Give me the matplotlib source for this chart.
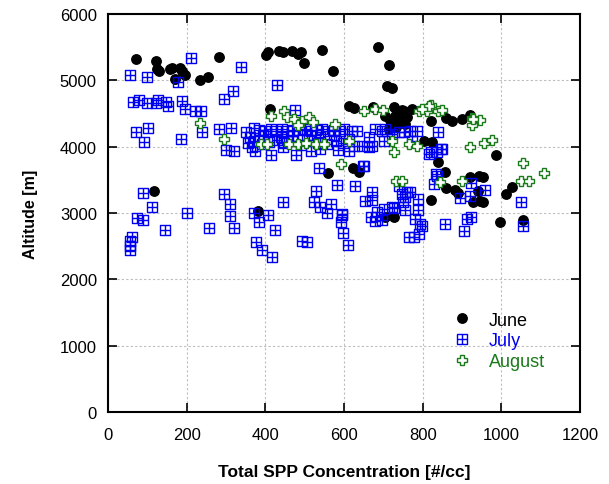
import numpy as np
import matplotlib
matplotlib.use('Agg')
import matplotlib.pyplot as plt
from matplotlib.path import Path

plt.rcParams['font.family'] = ['Liberation Sans', 'DejaVu Sans']

# ---------------- data ----------------
june_x = [72, 121, 125, 130, 157, 164, 182, 189, 197, 170, 235, 254, 282,
          402, 408, 435, 446, 469, 490, 484, 499, 543, 572, 686, 714, 710, 721,
          412, 613, 625, 673, 727, 730, 735, 752, 773, 705, 756, 731, 714, 722,
          748, 727, 740, 745, 718, 760, 822, 860, 874, 900, 921, 803, 824, 986,
          839, 857, 859, 881, 889, 921, 942, 954, 940, 929, 946, 954, 820, 1028,
          1013, 997, 1056, 705, 727, 623, 638, 560, 382, 117]
june_y = [5322, 5296, 5170, 5146, 5170, 5180, 5180, 5146, 5085, 5020, 5010, 5045, 5356,
          5380, 5430, 5450, 5430, 5450, 5430, 5395, 5260, 5460, 5135, 5510, 5225, 4910, 4890,
          4570, 4610, 4580, 4595, 4595, 4460, 4370, 4545, 4570, 4470, 4340, 4290, 4266, 4315,
          4560, 4440, 4420, 4500, 4400, 4450, 4380, 4440, 4390, 4415, 4475, 4090, 4065, 3880,
          3765, 3615, 3375, 3340, 3300, 3550, 3565, 3540, 3330, 3160, 3175, 3160, 3195, 3385,
          3285, 2870, 2900, 2935, 2935, 3675, 3625, 3600, 3025, 3336]

july_x = [55, 99, 210, 337, 178, 430, 64, 79, 98, 123, 127, 147, 153, 189, 197, 220,
          237, 296, 317, 475, 71, 102, 185, 92, 239, 281, 313, 351, 372, 299, 321, 375,
          414, 479, 516, 88, 112, 73, 89, 144, 201, 61, 56, 56, 56, 296, 311, 311, 258,
          321, 372, 385, 376, 392, 417, 406, 425, 446, 493, 505, 528, 583, 524, 538, 568,
          556, 596, 593, 598, 611, 537, 649, 627, 739, 672, 653, 670, 701, 727, 754, 769,
          788, 750, 754, 788, 684, 668, 680, 697, 594, 781, 794, 765, 777, 798, 790, 1051,
          1056, 847, 820, 815, 834, 828, 923, 959, 895, 921, 857, 912, 923, 904, 840, 837,
          849, 621, 634, 613, 625, 613, 646, 663, 672, 663, 680, 697, 705, 701, 722, 739,
          752, 769, 785, 773, 651, 760, 748, 722, 837,
          385, 400, 414, 428, 442, 456, 470, 485, 500, 515, 530, 545, 560, 575, 590, 600,
          355, 370, 392, 410, 430, 448, 467, 490, 512, 535, 557, 580, 598,
          360, 395, 440, 470, 505, 540, 575, 365, 445, 540, 585]
july_y = [5085, 5045, 5330, 5196, 4980, 4935, 4669, 4710, 4660, 4660, 4710, 4680, 4620, 4685, 4570, 4535,
          4545, 4720, 4835, 4560, 4225, 4280, 4115, 4065, 4225, 4265, 4280, 4225, 4280, 3950, 3930, 3930,
          3870, 3880, 3940, 3300, 3085, 2920, 2895, 2745, 3000, 2635, 2575, 2510, 2440, 3285, 3135, 2950, 2775,
          2770, 3000, 2860, 2560, 2435, 2335, 2975, 2745, 3160, 2575, 2560, 3327, 3422, 3160, 3085, 3135,
          2995, 2975, 2870, 2700, 2520, 3680, 3705, 3410, 3400, 3320, 3175, 3195, 3060, 3075, 3245, 3310,
          3210, 3160, 3045, 3045, 3010, 2945, 2885, 2895, 2985, 2910, 2835, 2635, 2635, 2810, 2685, 3160,
          2810, 3965, 3915, 3890, 3590, 3440, 3450, 3350, 3225, 3250, 2835, 2910, 2935, 2735, 4215, 3915,
          3965, 4241, 4241, 4115, 4015, 3940, 4015, 3990, 4015, 4140, 4266, 4241, 4266, 4090, 4190, 4215,
          4215, 4241, 4241, 4090, 3715, 3315, 3285, 3085, 3565,
          4250, 4230, 4270, 4240, 4260, 4230, 4255, 4245, 4265, 4235, 4250, 4270, 4240, 4255, 4235, 4260,
          4060, 4090, 4040, 4075, 4100, 4050, 4080, 4030, 4095, 4060, 4040, 4085, 4050,
          4150, 4170, 4150, 4160, 4180, 4150, 4170, 3995, 3990, 3970, 3950]

aug_x = [235, 296, 414, 448, 454, 473, 494, 511, 520, 482, 577, 651, 678, 699, 790, 811,
         822, 840, 849, 815, 798, 925, 946, 925, 929, 388, 404, 459, 482, 503, 528, 549,
         613, 722, 765, 785, 727, 921, 957, 977, 593, 1056, 1109, 1051, 1071, 731, 748,
         845, 900]
aug_y = [4355, 4115, 4460, 4545, 4445, 4420, 4390, 4445, 4375, 4320, 4340, 4535, 4570, 4560, 4545, 4545,
         4630, 4545, 4560, 4620, 4570, 4440, 4400, 4320, 4415, 4045, 4045, 4045, 4045, 4050, 4040, 4045,
         4090, 4090, 4040, 4015, 3925, 3995, 4050, 4100, 3740, 3750, 3600, 3490, 3490, 3490, 3490,
         3475, 3490]

# square with a cross inside (July marker)
boxplus = Path([(-1, -1), (1, -1), (1, 1), (-1, 1), (-1, -1),
                (0, -1), (0, 1), (-1, 0), (1, 0)],
               [Path.MOVETO, Path.LINETO, Path.LINETO, Path.LINETO, Path.CLOSEPOLY,
                Path.MOVETO, Path.LINETO, Path.MOVETO, Path.LINETO])

blue = '#0000f0'
green = '#1a7a1a'

fig = plt.figure(figsize=(6.09, 4.85), dpi=100)
ax = fig.add_axes([0.1773, 0.1485, 0.7751, 0.8205])

ax.plot(june_x, june_y, 'o', color='black', markersize=6.8, label='June', zorder=3)
ax.plot(july_x, july_y, linestyle='none', marker=boxplus, markersize=7.2, markerfacecolor='none',
        markeredgecolor=blue, markeredgewidth=1.0, label='July', zorder=4)
ax.plot(aug_x, aug_y, linestyle='none', marker='P', markersize=7.5, markerfacecolor='white',
        markeredgecolor=green, markeredgewidth=1.0, label='August', zorder=5)

ax.set_xlim(0, 1200)
ax.set_ylim(0, 6000)
ax.set_xticks(np.arange(0, 1201, 200))
ax.set_yticks(np.arange(0, 6001, 1000))
ax.grid(True, color='#bdbdbd', linestyle=(0, (2, 2)), linewidth=0.8)
ax.set_axisbelow(True)

ax.tick_params(direction='in', length=6.5, width=1.2, top=True, right=True, labelsize=12)
ax.tick_params(axis='x', pad=11)
ax.tick_params(axis='y', pad=8)
for s in ax.spines.values():
    s.set_linewidth(1.5)

ax.set_xlabel('Total SPP Concentration [#/cc]', fontsize=12.5, fontweight='bold', labelpad=16)
ax.set_ylabel('Altitude [m]', fontsize=11.5, fontweight='bold', labelpad=16)

leg = ax.legend(loc='upper left', bbox_to_anchor=(0.721, 0.252), frameon=False,
                fontsize=13, handlelength=1.5, handletextpad=0.75, labelspacing=0.2,
                borderaxespad=0, borderpad=0)
for t, c in zip(leg.get_texts(), ['black', blue, green]):
    t.set_color(c)

fig.savefig('out.png', dpi=100)
